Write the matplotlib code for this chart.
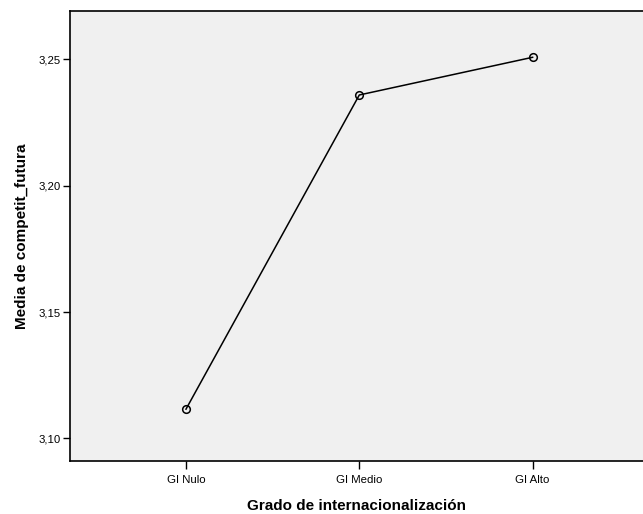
import numpy as np
import matplotlib
matplotlib.use('Agg')
import matplotlib.pyplot as plt
import matplotlib.ticker as mtick

categorias = ['GI Nulo', 'GI Medio', 'GI Alto']
medias = [3.1116, 3.2358, 3.2507]
yticks = [3.10, 3.15, 3.20, 3.25]

plt.rcParams['font.family'] = ['Liberation Sans', 'DejaVu Sans']

fig = plt.figure(figsize=(6.43, 5.14), dpi=100)
ax = fig.add_axes([70/643, 1 - 461/514, 1 - 70/643, 450/514])
ax.set_facecolor('#F0F0F0')

x = np.arange(1, len(categorias) + 1)
ax.plot(x, medias, color='black', lw=1.1, marker='o', ms=5.5,
        mfc='none', mec='black', mew=1.1)

ax.set_xlim(1 - 116/173.3, 1 + 457/173.3)
ax.set_ylim(3.0911, 3.2690)
ax.set_xticks(x)
ax.set_xticklabels(categorias)
ax.set_yticks(yticks)
ax.yaxis.set_major_formatter(mtick.FuncFormatter(lambda v, p: ('%.2f' % v).replace('.', ',')))
ax.tick_params(axis='both', labelsize=8.2, length=5, width=1, color='black', pad=2)
ax.tick_params(axis='x', length=6, pad=4)

for s in ['left', 'top', 'bottom']:
    ax.spines[s].set_linewidth(1.2)
ax.spines['right'].set_visible(False)

ax.set_xlabel('Grado de internacionalización', fontsize=11, fontweight='bold', labelpad=10)
ax.set_ylabel('Media de competit_futura', fontsize=11, fontweight='bold', labelpad=6.5)

fig.savefig('out.png', dpi=100)
